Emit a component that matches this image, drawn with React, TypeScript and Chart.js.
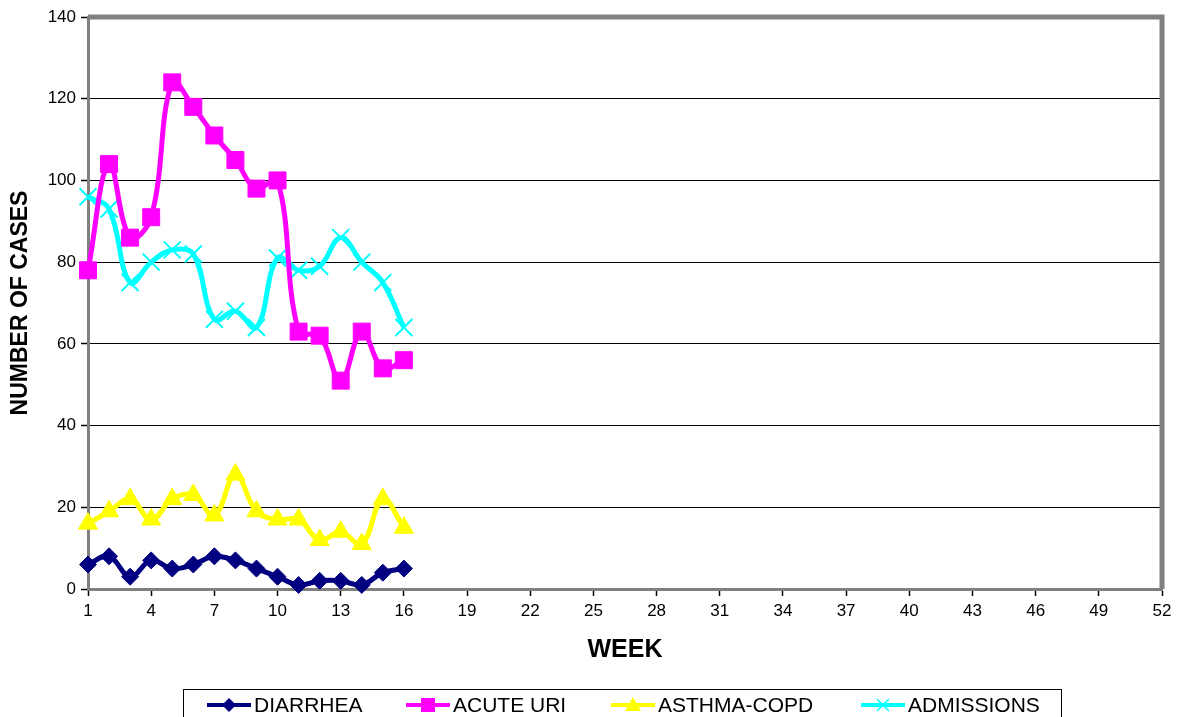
import React, { useEffect, useRef } from "react";
import { Chart, registerables } from "chart.js";

Chart.register(...registerables);

const weeks = [
  "1","2","3","4","5","6","7","8","9","10","11","12","13","14","15","16","17","18","19","20",
  "21","22","23","24","25","26","27","28","29","30","31","32","33","34","35","36","37","38","39","40",
  "41","42","43","44","45","46","47","48","49","50","51","52",
];

const diarrhea = [6, 8, 3, 7, 5, 6, 8, 7, 5, 3, 1, 2, 2, 1, 4, 5];
const acuteUri = [78, 104, 86, 91, 124, 118, 111, 105, 98, 100, 63, 62, 51, 63, 54, 56];
const asthmaCopd = [16, 19, 22, 17, 22, 23, 18, 28, 19, 17, 17, 12, 14, 11, 22, 15];
const admissions = [96, 93, 75, 80, 83, 82, 66, 68, 64, 81, 78, 79, 86, 80, 75, 64];

const seriesNames = ["DIARRHEA", "ACUTE URI", "ASTHMA-COPD", "ADMISSIONS"];
const seriesColors = ["#000080", "#FF00FF", "#FFFF00", "#00FFFF"];

const yMax = 140;
const yStep = 20;

const FONT = "'Liberation Sans', Arial, sans-serif";

function drawMarker(ctx: CanvasRenderingContext2D, kind: number, x: number, y: number, color: string) {
  ctx.save();
  ctx.fillStyle = color;
  ctx.strokeStyle = color;
  if (kind === 0) {
    ctx.beginPath();
    ctx.moveTo(x, y - 7);
    ctx.lineTo(x + 7, y);
    ctx.lineTo(x, y + 7);
    ctx.lineTo(x - 7, y);
    ctx.closePath();
    ctx.fill();
  } else if (kind === 1) {
    ctx.fillRect(x - 7, y - 7, 14, 14);
  } else if (kind === 2) {
    ctx.beginPath();
    ctx.moveTo(x, y - 8);
    ctx.lineTo(x + 8, y + 6);
    ctx.lineTo(x - 8, y + 6);
    ctx.closePath();
    ctx.fill();
  } else {
    ctx.lineWidth = 1.5;
    ctx.beginPath();
    ctx.moveTo(x - 6, y - 6);
    ctx.lineTo(x + 6, y + 6);
    ctx.moveTo(x + 6, y - 6);
    ctx.lineTo(x - 6, y + 6);
    ctx.stroke();
  }
  ctx.restore();
}

const framePlugin = {
  id: "frame",
  beforeDatasetsDraw(chart: any) {
    const { ctx, chartArea } = chart;
    ctx.save();
    ctx.strokeStyle = "#808080";
    ctx.lineWidth = 5;
    ctx.beginPath();
    ctx.moveTo(chartArea.left, chartArea.top);
    ctx.lineTo(chartArea.right, chartArea.top);
    ctx.lineTo(chartArea.right, chartArea.bottom);
    ctx.stroke();
    ctx.restore();
  },
};

const legendPlugin = {
  id: "customLegend",
  afterDraw(chart: any) {
    const { ctx } = chart;
    ctx.save();
    ctx.strokeStyle = "#000000";
    ctx.lineWidth = 1;
    ctx.strokeRect(183.5, 689.5, 878, 40);
    const starts = [207, 406, 611, 861];
    const cy = 705;
    ctx.font = `21px ${FONT}`;
    ctx.textBaseline = "middle";
    ctx.textAlign = "left";
    for (let i = 0; i < 4; i++) {
      const x0 = starts[i];
      ctx.strokeStyle = seriesColors[i];
      ctx.lineWidth = 4;
      ctx.beginPath();
      ctx.moveTo(x0, cy);
      ctx.lineTo(x0 + 44, cy);
      ctx.stroke();
      drawMarker(ctx, i, x0 + 22, cy, seriesColors[i]);
      ctx.fillStyle = "#000000";
      ctx.fillText(seriesNames[i], x0 + 47, cy + 1);
    }
    ctx.restore();
  },
};

export default function App() {
  const ref = useRef<HTMLCanvasElement>(null);

  useEffect(() => {
    document.body.style.margin = "0";
    const canvas = ref.current;
    if (!canvas) return;
    const common = {
      borderWidth: 5,
      tension: 0.4,
      clip: false as any,
      pointBorderWidth: 1,
    };
    const chart = new Chart(canvas, {
      type: "line",
      data: {
        labels: weeks,
        datasets: [
          {
            ...common,
            label: seriesNames[0],
            data: diarrhea,
            borderColor: seriesColors[0],
            backgroundColor: seriesColors[0],
            pointStyle: "rectRot",
            pointRadius: 8.5,
          },
          {
            ...common,
            label: seriesNames[1],
            data: acuteUri,
            borderColor: seriesColors[1],
            backgroundColor: seriesColors[1],
            pointStyle: "rect",
            pointRadius: 12,
          },
          {
            ...common,
            label: seriesNames[2],
            data: asthmaCopd,
            borderColor: seriesColors[2],
            backgroundColor: seriesColors[2],
            pointStyle: "triangle",
            pointRadius: 11,
          },
          {
            ...common,
            label: seriesNames[3],
            data: admissions,
            borderColor: seriesColors[3],
            backgroundColor: seriesColors[3],
            pointStyle: "crossRot",
            pointRadius: 12,
            pointBorderWidth: 2,
          },
        ],
      },
      options: {
        animation: false,
        responsive: false,
        maintainAspectRatio: false,
        layout: { padding: { top: 17, right: 19, left: 0, bottom: 0 } },
        plugins: {
          legend: { display: false },
          tooltip: { enabled: false },
        },
        scales: {
          x: {
            type: "category",
            offset: false,
            afterFit(scale: any) {
              scale.height = 128;
            },
            afterBuildTicks(scale: any) {
              scale.ticks = scale.ticks.filter((t: any) => t.value % 3 === 0);
            },
            ticks: {
              autoSkip: false,
              maxRotation: 0,
              color: "#000000",
              font: { family: FONT, size: 17 },
              padding: 5,
            },
            grid: {
              display: true,
              drawOnChartArea: false,
              drawTicks: true,
              tickLength: 7,
              tickColor: "#000000",
              tickWidth: 1.5,
            },
            border: { display: true, color: "#808080", width: 3 },
            title: {
              display: true,
              text: "WEEK",
              color: "#000000",
              font: { family: FONT, size: 25, weight: "bold" },
              padding: { top: 0, bottom: 52 },
            },
          },
          y: {
            min: 0,
            max: yMax,
            afterFit(scale: any) {
              scale.width = 88;
            },
            ticks: {
              stepSize: yStep,
              color: "#000000",
              font: { family: FONT, size: 17 },
              padding: 5,
            },
            grid: {
              display: true,
              color: "#000000",
              lineWidth: 1,
              drawTicks: true,
              tickLength: 7,
              tickColor: "#000000",
              tickWidth: 1.5,
            },
            border: { display: true, color: "#808080", width: 3 },
            title: {
              display: true,
              text: "NUMBER OF CASES",
              color: "#000000",
              font: { family: FONT, size: 23, weight: "bold" },
              padding: { top: 7, bottom: 0 },
            },
          },
        },
      },
      plugins: [framePlugin, legendPlugin],
    });
    return () => chart.destroy();
  }, []);

  return (
    <div style={{ position: "absolute", left: 0, top: 0, width: 1181, height: 717, background: "#ffffff" }}>
      <canvas ref={ref} width={1181} height={717} style={{ width: 1181, height: 717, display: "block" }} />
    </div>
  );
}
